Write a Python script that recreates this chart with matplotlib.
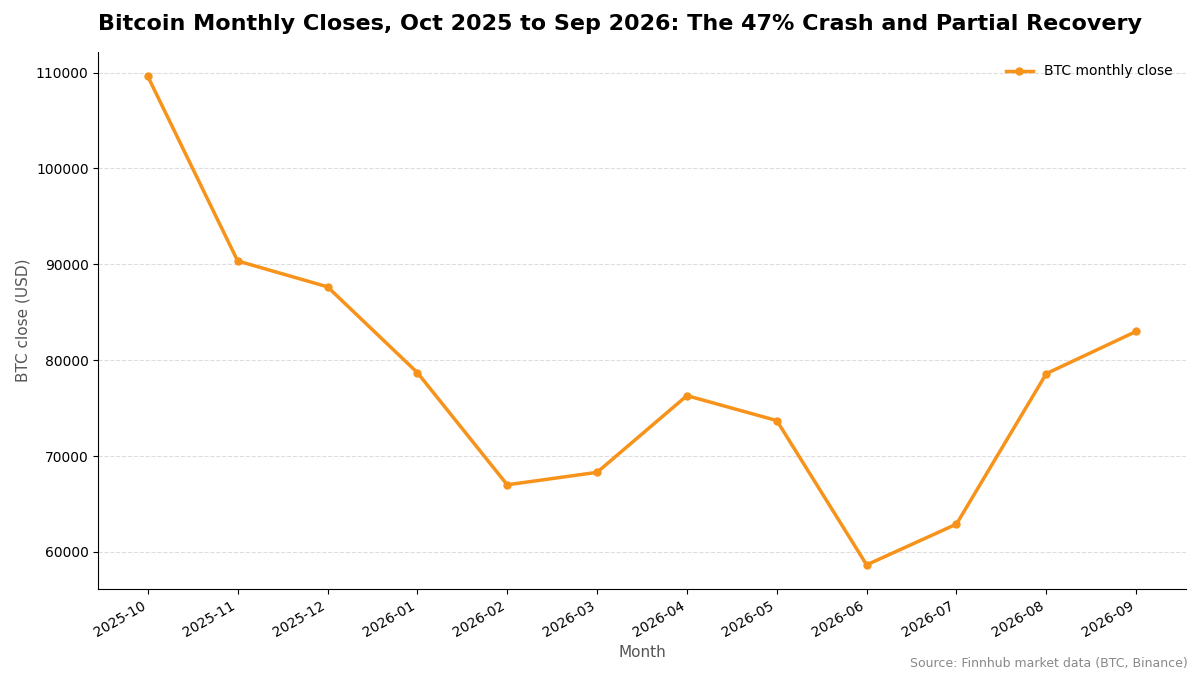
import matplotlib
matplotlib.use("Agg")
import matplotlib.pyplot as plt

months = ["2025-10", "2025-11", "2025-12", "2026-01", "2026-02", "2026-03",
          "2026-04", "2026-05", "2026-06", "2026-07", "2026-08", "2026-09"]
closes = [109600, 90350, 87650, 78700, 67000, 68300,
          76300, 73700, 58650, 62900, 78600, 83000]

fig, ax = plt.subplots(figsize=(12, 6.75), dpi=100)
ax.plot(months, closes, "o-", color="#F7931A", linewidth=2.5, markersize=5,
        label="BTC monthly close")

ax.set_title("Bitcoin Monthly Closes, Oct 2025 to Sep 2026: The 47% Crash and Partial Recovery",
             fontsize=16, fontweight="bold", loc="left", pad=16)
ax.set_xlabel("Month", fontsize=11, color="#555555")
ax.set_ylabel("BTC close (USD)", fontsize=11, color="#555555")
ax.grid(True, axis="y", linestyle="--", color="#dddddd", linewidth=0.8)
ax.spines["top"].set_visible(False)
ax.spines["right"].set_visible(False)
ax.legend(loc="upper right", frameon=False)
plt.setp(ax.get_xticklabels(), rotation=30, ha="right")

fig.subplots_adjust(left=0.082, right=0.988, top=0.923, bottom=0.127)
fig.text(0.99, 0.008, "Source: Finnhub market data (BTC, Binance)",
         ha="right", va="bottom", fontsize=9, color="#888888")

fig.savefig("out.png", dpi=100)
